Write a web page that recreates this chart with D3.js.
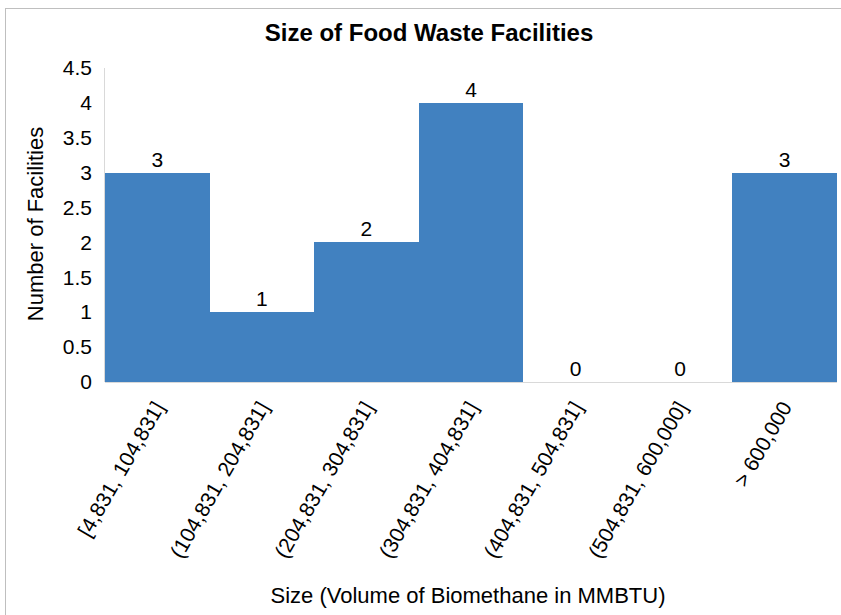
<html>
<head>
<meta charset="UTF-8">
<style>
  body { margin: 0; background: #fff; }
  text { font-family: "Liberation Sans", Arial, sans-serif; fill: #000; }
  .bar { shape-rendering: crispEdges; }
  .axis path, .axis line { fill: none; stroke: #d9d9d9; shape-rendering: crispEdges; }
  .axis text { font-size: 21px; font-family: "Liberation Sans", Arial, sans-serif; fill: #000; }
</style>
<script src="https://cdn.jsdelivr.net/npm/d3@7"></script>
</head>
<body>
<div class="chart"></div>
<script>

var categories = ["[4,831, 104,831]", "(104,831, 204,831]", "(204,831, 304,831]",
                  "(304,831, 404,831]", "(404,831, 504,831]", "(504,831, 600,000]", "> 600,000"];
var counts = [3, 1, 2, 4, 0, 0, 3];
var yTicks = [0, 0.5, 1, 1.5, 2, 2.5, 3, 3.5, 4, 4.5];

var W = 841, H = 615;
var margin = {top: 68, right: 4, bottom: 233, left: 105},
    width = W - margin.left - margin.right,
    height = H - margin.top - margin.bottom;

var svg = d3.select(".chart").append("svg")
    .attr("width", W)
    .attr("height", H);

// outer chart border (right and bottom edges fall outside the picture)
svg.append("rect")
    .attr("x", 5.5).attr("y", 8.5)
    .attr("width", 860).attr("height", 640)
    .style("fill", "none")
    .style("stroke", "#bfbfbf");

svg.append("text")
    .attr("x", 429).attr("y", 41)
    .style("text-anchor", "middle")
    .style("font-weight", "bold")
    .style("font-size", "24px")
    .text("Size of Food Waste Facilities");

var g = svg.append("g")
    .attr("transform", "translate(" + margin.left + "," + margin.top + ")");

var x = d3.scaleBand().domain(categories).range([0, width]).padding(0);
var y = d3.scaleLinear().domain([0, 4.5]).range([height, 0]);

g.selectAll(".bar")
    .data(counts)
  .enter().append("rect")
    .attr("class", "bar")
    .style("fill", "#4181c0")
    .attr("x", function(d, i) { return x(categories[i]); })
    .attr("width", x.bandwidth())
    .attr("y", function(d) { return y(d); })
    .attr("height", function(d) { return height - y(d); });

g.selectAll(".label")
    .data(counts)
  .enter().append("text")
    .attr("class", "label")
    .attr("x", function(d, i) { return x(categories[i]) + x.bandwidth() / 2; })
    .attr("y", function(d) { return y(d) - 6; })
    .style("text-anchor", "middle")
    .style("font-size", "21px")
    .text(function(d) { return d; });

var yAxis = d3.axisLeft(y).tickValues(yTicks).tickSize(0).tickPadding(13)
    .tickFormat(function(d) { return d; });
g.append("g")
    .attr("class", "y axis")
    .call(yAxis)
    .call(function(s) { s.select(".domain").attr("d", "M-0.5," + height + "V0"); });

var xAxis = d3.axisBottom(x).tickSize(0);
var xg = g.append("g")
    .attr("class", "x axis")
    .attr("transform", "translate(0," + height + ")")
    .call(xAxis);
xg.select(".domain").attr("d", "M0,0.5H" + width);
xg.selectAll("text")
    .style("text-anchor", "end")
    .attr("dy", 0)
    .attr("y", 0)
    .attr("transform", "translate(8,25) rotate(-60)");

svg.append("text")
    .attr("transform", "translate(43,224) rotate(-90)")
    .style("text-anchor", "middle")
    .style("font-size", "22px")
    .text("Number of Facilities");

svg.append("text")
    .attr("x", 468).attr("y", 603)
    .style("text-anchor", "middle")
    .style("font-size", "22px")
    .text("Size (Volume of Biomethane in MMBTU)");

</script>
</body>
</html>
